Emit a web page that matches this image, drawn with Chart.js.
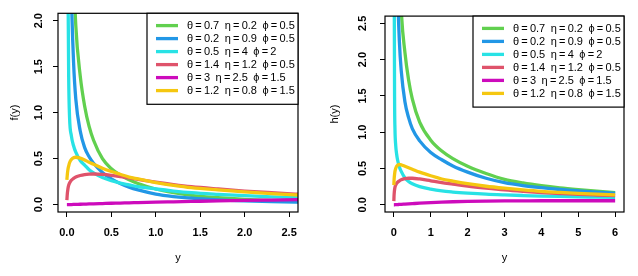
<!DOCTYPE html>
<html>
<head>
<meta charset="utf-8">
<script src="https://cdn.jsdelivr.net/npm/chart.js@4.4.1/dist/chart.umd.min.js"></script>
<style>
  html, body { margin: 0; padding: 0; background: #fff; }
  #wrap { position: relative; width: 638px; height: 276px; }
  canvas { position: absolute; top: 0; }
  #fChart { left: 0; }
  #hChart { left: 319px; }
</style>
</head>
<body>
<div id="wrap">
  <canvas id="fChart" width="319" height="276"></canvas>
  <canvas id="hChart" width="319" height="276"></canvas>
</div>
<script>
// legend entries, same order in both panels (thin spaces round "=", en space between groups)
const seriesLabels = [
  'θ\u2009=\u20090.7\u2002η\u2009=\u20090.2\u2002ϕ\u2009=\u20090.5',
  'θ\u2009=\u20090.2\u2002η\u2009=\u20090.9\u2002ϕ\u2009=\u20090.5',
  'θ\u2009=\u20090.5\u2002η\u2009=\u20094\u2002ϕ\u2009=\u20092',
  'θ\u2009=\u20091.4\u2002η\u2009=\u20091.2\u2002ϕ\u2009=\u20090.5',
  'θ\u2009=\u20093\u2002η\u2009=\u20092.5\u2002ϕ\u2009=\u20091.5',
  'θ\u2009=\u20091.2\u2002η\u2009=\u20090.8\u2002ϕ\u2009=\u20091.5'
];
const seriesColors = ['#61D04F', '#2297E6', '#28E2E5', '#DF536B', '#CD0BBC', '#F5C710'];

// left panel: density f(y)
const fX = [0, 0.005, 0.01, 0.015, 0.02, 0.03, 0.05, 0.075, 0.1, 0.15, 0.2, 0.25, 0.3, 0.4, 0.5, 0.6, 0.7, 0.8, 1.0, 1.2, 1.4, 1.7, 2.0, 2.3, 2.7];
const fGreen   = [null, 25, 12, 9, 7.5, 5.5, 3.9, 2.6, 1.95, 1.4, 1.07, 0.85, 0.7, 0.5, 0.39, 0.32, 0.27, 0.23, 0.17, 0.13, 0.1, 0.075, 0.057, 0.045, 0.034];
const fBlue    = [null, 10, 7, 5.5, 4.5, 3.4, 2.3, 1.55, 1.15, 0.8, 0.62, 0.52, 0.45, 0.35, 0.28, 0.23, 0.19, 0.16, 0.115, 0.088, 0.07, 0.052, 0.04, 0.032, 0.025];
const fCyan    = [null, 5, 3, 2.05, 1.4, 0.95, 0.75, 0.64, 0.57, 0.48, 0.43, 0.38, 0.345, 0.295, 0.26, 0.235, 0.215, 0.195, 0.17, 0.148, 0.13, 0.112, 0.097, 0.085, 0.073];
const fRed     = [0.05, 0.12, 0.16, 0.19, 0.21, 0.235, 0.265, 0.285, 0.3, 0.317, 0.327, 0.332, 0.333, 0.328, 0.318, 0.305, 0.29, 0.275, 0.245, 0.218, 0.195, 0.17, 0.148, 0.13, 0.108];
const fMagenta = [0, 0, 0, 0, 0, 0, 0.001, 0.002, 0.003, 0.004, 0.006, 0.008, 0.009, 0.012, 0.015, 0.017, 0.02, 0.022, 0.027, 0.031, 0.035, 0.041, 0.046, 0.05, 0.055];
const fYellow  = [0.27, 0.33, 0.37, 0.4, 0.42, 0.455, 0.49, 0.51, 0.515, 0.505, 0.485, 0.46, 0.44, 0.395, 0.36, 0.33, 0.3, 0.28, 0.24, 0.21, 0.185, 0.16, 0.138, 0.12, 0.1];
const fXTicks = [0, 0.5, 1, 1.5, 2, 2.5];
const fXTickLabels = ['0.0', '0.5', '1.0', '1.5', '2.0', '2.5'];
const fYTicks = [0, 0.5, 1, 1.5, 2];
const fYTickLabels = ['0.0', '0.5', '1.0', '1.5', '2.0'];

// right panel: hazard h(y)
const hX = [0, 0.005, 0.01, 0.02, 0.03, 0.05, 0.075, 0.1, 0.15, 0.2, 0.3, 0.4, 0.5, 0.7, 1.0, 1.3, 1.6, 2.0, 2.5, 3.0, 3.5, 4.0, 4.5, 5.0, 5.5, 6.0];
const hGreen   = [null, 60, 35, 20, 14, 9, 6.3, 5, 3.5, 2.7, 2.1, 1.72, 1.46, 1.14, 0.89, 0.74, 0.635, 0.53, 0.43, 0.35, 0.3, 0.262, 0.232, 0.208, 0.187, 0.168];
const hBlue    = [null, 40, 22, 12, 8, 5, 3.7, 3.0, 2.25, 1.85, 1.42, 1.2, 1.05, 0.88, 0.72, 0.62, 0.535, 0.45, 0.365, 0.305, 0.265, 0.235, 0.21, 0.19, 0.173, 0.158];
const hCyan    = [null, 5, 3, 1.45, 1.05, 0.82, 0.7, 0.62, 0.52, 0.46, 0.37, 0.32, 0.29, 0.25, 0.215, 0.19, 0.175, 0.16, 0.145, 0.135, 0.127, 0.12, 0.114, 0.109, 0.105, 0.101];
const hRed     = [0.05, 0.12, 0.16, 0.21, 0.24, 0.27, 0.295, 0.31, 0.33, 0.345, 0.36, 0.365, 0.365, 0.355, 0.33, 0.305, 0.285, 0.258, 0.23, 0.205, 0.185, 0.168, 0.155, 0.143, 0.134, 0.126];
const hMagenta = [0, 0, 0, 0, 0.001, 0.001, 0.002, 0.003, 0.004, 0.006, 0.009, 0.012, 0.015, 0.021, 0.029, 0.036, 0.041, 0.046, 0.05, 0.053, 0.054, 0.055, 0.055, 0.055, 0.055, 0.055];
const hYellow  = [0.27, 0.33, 0.37, 0.42, 0.46, 0.5, 0.53, 0.545, 0.555, 0.55, 0.53, 0.51, 0.49, 0.45, 0.4, 0.355, 0.325, 0.29, 0.255, 0.228, 0.205, 0.185, 0.17, 0.157, 0.146, 0.136];
const hXTicks = [0, 1, 2, 3, 4, 5, 6];
const hXTickLabels = ['0', '1', '2', '3', '4', '5', '6'];
const hYTicks = [0, 0.5, 1, 1.5, 2, 2.5];
const hYTickLabels = ['0.0', '0.5', '1.0', '1.5', '2.0', '2.5'];

Chart.defaults.font.family = '"Liberation Sans", Arial, Helvetica, sans-serif';
Chart.defaults.color = '#000';

// box round the plot region plus the framed legend in the top right corner
const framePlugin = {
  id: 'frameLegend',
  afterDatasetsDraw(chart) {
    const ctx = chart.ctx;
    const a = chart.chartArea;
    ctx.save();
    ctx.strokeStyle = '#000';
    ctx.lineWidth = 1.2;
    ctx.strokeRect(a.left, a.top, a.right - a.left, a.bottom - a.top);

    const lw = 151, lh = 91;
    const lx = a.right - lw, ly = a.top;
    ctx.fillStyle = '#fff';
    ctx.fillRect(lx, ly, lw, lh);
    ctx.strokeRect(lx, ly, lw, lh);
    ctx.font = '11px "Liberation Sans", Arial, sans-serif';
    ctx.textBaseline = 'middle';
    ctx.textAlign = 'left';
    chart.data.datasets.forEach((ds, i) => {
      const y = ly + 12.3 + i * 13;
      ctx.strokeStyle = ds.borderColor;
      ctx.lineWidth = 3.3;
      ctx.beginPath();
      ctx.moveTo(lx + 9, y);
      ctx.lineTo(lx + 31, y);
      ctx.stroke();
      ctx.fillStyle = '#000';
      ctx.fillText(ds.label, lx + 40, y + 0.5);
    });
    ctx.restore();
  }
};

function buildPanel(id, xs, seriesY, cfg) {
  const datasets = seriesY.map((ys, i) => ({
    label: seriesLabels[i],
    data: xs.map((x, j) => ({ x: x, y: ys[j] })).filter(p => p.y !== null),
    borderColor: seriesColors[i],
    backgroundColor: seriesColors[i],
    borderWidth: 3.3,
    pointRadius: 0,
    fill: false,
    cubicInterpolationMode: 'monotone',
    clip: 0,
    order: seriesY.length - i
  }));

  return new Chart(document.getElementById(id), {
    type: 'line',
    data: { datasets: datasets },
    options: {
      responsive: false,
      animation: false,
      devicePixelRatio: 1,
      layout: { padding: { left: 0, top: 12, right: cfg.padRight, bottom: 0 } },
      plugins: { legend: { display: false }, tooltip: { enabled: false } },
      scales: {
        x: {
          type: 'linear',
          min: cfg.xMin,
          max: cfg.xMax,
          afterBuildTicks: s => { s.ticks = cfg.xTicks.map(v => ({ value: v })); },
          afterFit: s => { s.height = 64; },
          ticks: {
            autoSkip: false, minRotation: 0, maxRotation: 0, padding: 9,
            color: '#000', font: { size: 11, weight: 'bold' },
            callback: (v, i) => cfg.xTickLabels[i]
          },
          grid: { drawOnChartArea: false, drawTicks: true, tickLength: 5, color: '#000', lineWidth: 1 },
          border: { display: false },
          title: { display: true, text: 'y', color: '#000', font: { size: 11 }, padding: { top: 0, bottom: 11.4 } }
        },
        y: {
          type: 'linear',
          min: cfg.yMin,
          max: cfg.yMax,
          afterBuildTicks: s => { s.ticks = cfg.yTicks.map(v => ({ value: v })); },
          afterFit: s => { s.width = cfg.yAxisWidth; },
          ticks: {
            autoSkip: false, minRotation: 90, maxRotation: 90, crossAlign: 'center',
            padding: cfg.yTickPad, color: '#000', font: { size: 11, weight: 'bold' },
            callback: (v, i) => cfg.yTickLabels[i]
          },
          grid: { drawOnChartArea: false, drawTicks: true, tickLength: 5, color: '#000', lineWidth: 1 },
          border: { display: false },
          title: { display: true, text: cfg.yTitle, color: '#000', font: { size: 11 }, padding: { top: cfg.yTitlePad, bottom: 0 } }
        }
      }
    },
    plugins: [framePlugin]
  });
}

buildPanel('fChart', fX, [fGreen, fBlue, fCyan, fRed, fMagenta, fYellow], {
  xMin: -0.1, xMax: 2.6, yMin: -0.08, yMax: 2.08,
  xTicks: fXTicks, xTickLabels: fXTickLabels,
  yTicks: fYTicks, yTickLabels: fYTickLabels,
  yTitle: 'f(y)', yAxisWidth: 58, yTickPad: 6.7, yTitlePad: 8.4, padRight: 21
});

buildPanel('hChart', hX, [hGreen, hBlue, hCyan, hRed, hMagenta, hYellow], {
  xMin: -0.24, xMax: 6.24, yMin: -0.1, yMax: 2.6,
  xTicks: hXTicks, xTickLabels: hXTickLabels,
  yTicks: hYTicks, yTickLabels: hYTickLabels,
  yTitle: 'h(y)', yAxisWidth: 66, yTickPad: 9.5, yTitlePad: 9.4, padRight: 14
});
</script>
</body>
</html>
